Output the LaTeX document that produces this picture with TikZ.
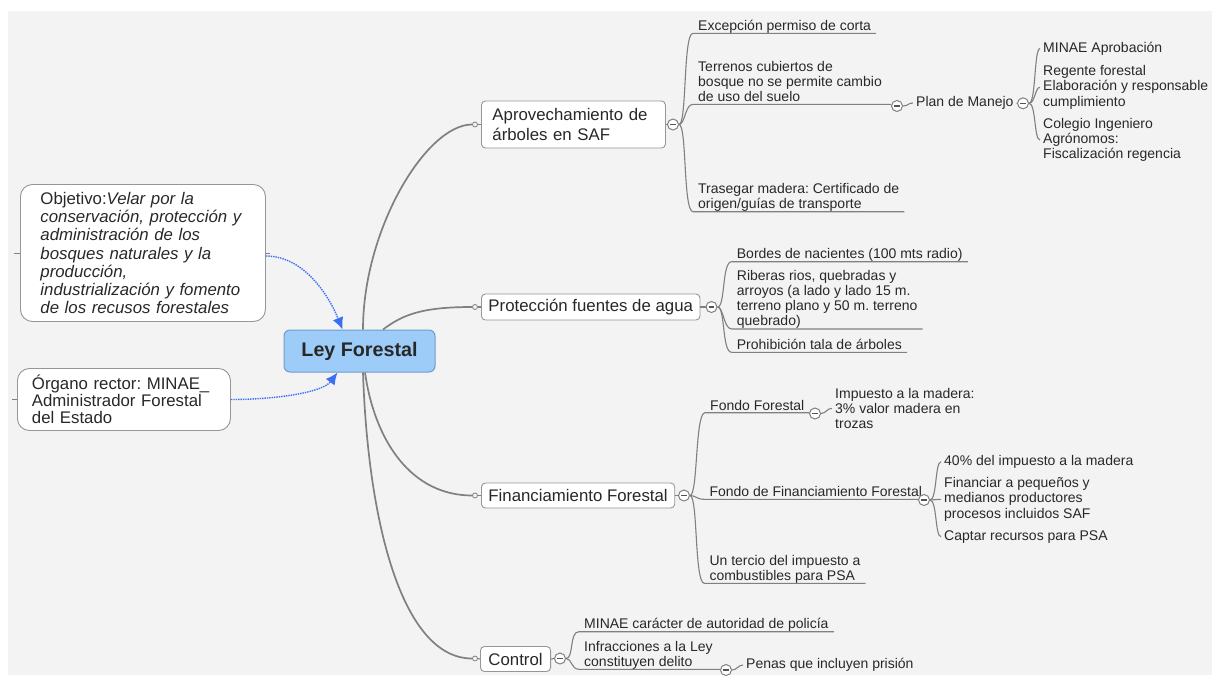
\documentclass[tikz,border=0pt]{standalone}
\usepackage{fontspec}
\setmainfont{Liberation Sans}
\usetikzlibrary{arrows.meta}
\frenchspacing

\definecolor{paper}{RGB}{243,243,243}
\definecolor{ink}{RGB}{40,40,40}
\definecolor{wire}{RGB}{128,128,128}
\definecolor{frame}{RGB}{150,150,150}
\definecolor{rootfill}{RGB}{158,204,248}
\definecolor{rootline}{RGB}{110,155,205}
\definecolor{linkblue}{RGB}{60,110,245}

\tikzset{
	topic/.style={draw=frame, fill=white, rounded corners=4pt, line width=0.9pt, text=ink, align=left, anchor=west, inner xsep=8pt, font=\fontsize{16.8}{19.5}\selectfont},
	sidebox/.style={draw=frame, fill=white, rounded corners=12pt, line width=0.9pt, text=ink, align=left, anchor=west, font=\fontsize{16.8}{18.3}\selectfont},
	leaf/.style={anchor=south west, inner xsep=5pt, inner ysep=0pt, align=left, text=ink, font=\fontsize{14}{15}\selectfont, execute at end node={\rule[-2.5pt]{0pt}{2.5pt}}},
	note/.style={anchor=west, inner xsep=3pt, inner ysep=1pt, align=left, text=ink, font=\fontsize{14}{15.3}\selectfont},
	tog/.style={circle, draw=wire, fill=white, line width=1pt, minimum size=11pt, inner sep=0pt, path picture={\draw[ink!80, line width=1.5pt] ([xshift=-2.8pt]path picture bounding box.center) -- ([xshift=2.8pt]path picture bounding box.center);}},
	knob/.style={circle, draw=wire, fill=paper, line width=0.8pt, minimum size=5pt, inner sep=0pt},
	trunk/.style={draw=wire, line width=1.7pt},
	twig/.style={draw=wire, line width=1.1pt},
	rel/.style={draw=linkblue, line width=1.4pt, densely dotted, -{Latex[length=12pt,width=11pt]}}
}

\begin{document}
\begin{tikzpicture}[x=1pt,y=-1pt]
		\useasboundingbox (0,0) rectangle (1212,675);
		\fill[white] (0,0) rectangle (1212,675);
		\fill[paper] (8,11) rectangle (1212,675);

		% centre and side notes
		\node[draw=rootline, fill=rootfill, rounded corners=6pt, line width=1pt, minimum width=151pt, minimum height=42pt, text=ink, font=\fontsize{19.7}{22}\selectfont\bfseries] (root) at (359.5,351) {Ley Forestal};
		\node[sidebox, text width=205pt, inner xsep=20pt, minimum height=137pt] (obj) at (20,253) {Objetivo:\textit{Velar por la}\\\textit{conservación, protección y}\\\textit{administración de los}\\\textit{bosques naturales y la}\\\textit{producción,}\\\textit{industrialización y fomento}\\\textit{de los recusos forestales}};
		\node[sidebox, text width=184pt, inner xsep=14.5pt, minimum height=62pt, font=\fontsize{16.8}{17}\selectfont] (org) at (17,399.5) {Órgano rector: MINAE\_\\Administrador Forestal\\del Estado};

		% main topics
		\node[knob] (aprok) at (475,124.5) {};
		\node[topic, text width=162pt, inner xsep=11pt, minimum height=47pt] (apro) at (481,124.5) {Aprovechamiento de\\árboles en SAF};
		\node[tog] (aprot) at (673,124.5) {};

		\node[knob] (protk) at (475,307) {};
		\node[topic, inner xsep=7pt, minimum height=26pt] (prot) at (481,307) {Protección fuentes de agua};
		\node[tog] (prott) at (711.5,307) {};

		\node[knob] (fink) at (475,495.5) {};
		\node[topic, inner xsep=7pt, minimum height=25pt] (fin) at (481,495.5) {Financiamiento Forestal};
		\node[tog] (fint) at (684,495.5) {};

		\node[knob] (ctrlk) at (475,658.5) {};
		\node[topic, minimum height=25pt] (ctrl) at (480,659) {Control};
		\node[tog] (ctrlt) at (560,658.5) {};

		% Aprovechamiento
		\node[leaf] (exc) at (693,33.3) {Excepción permiso de corta};
		\node[leaf] (terr) at (693,104.3) {Terrenos cubiertos de\\bosque no se permite cambio\\de uso del suelo};
		\node[tog] (terrt) at (897,106) {};
		\node[note] (plan) at (913,103) {Plan de Manejo};
		\node[tog] (plant) at (1023,103.3) {};
		\node[note] (minae) at (1040,48.5) {MINAE Aprobación};
		\node[note] (reg) at (1040,87.3) {Regente forestal\\Elaboración y responsable\\cumplimiento};
		\node[note] (col) at (1040,140) {Colegio Ingeniero\\Agrónomos:\\Fiscalización regencia};
		\node[leaf] (tras) at (693,211.7) {Trasegar madera: Certificado de\\origen/guías de transporte};

		% Proteccion
		\node[leaf] (bord) at (731.7,261.7) {Bordes de nacientes (100 mts radio)};
		\node[leaf] (rib) at (731.7,329) {Riberas rios, quebradas y\\arroyos (a lado y lado 15 m.\\terreno plano y 50 m. terreno\\quebrado)};
		\node[leaf] (proh) at (731.7,352.3) {Prohibición tala de árboles};

		% Financiamiento
		\node[leaf] (fondo) at (705,412.7) {Fondo Forestal};
		\node[tog] (fondot) at (815,413.5) {};
		\node[note] (imp) at (832,408.3) {Impuesto a la madera:\\3\% valor madera en\\trozas};
		\node[leaf] (ffin) at (704.3,499.3) {Fondo de Financiamiento Forestal};
		\node[tog] (ffint) at (924,500) {};
		\node[note] (cuarenta) at (941,461.7) {40\% del impuesto a la madera};
		\node[note] (finan) at (941,499.3) {Financiar a pequeños y\\medianos productores\\procesos incluidos SAF};
		\node[note] (captar) at (941,536.7) {Captar recursos para PSA};
		\node[leaf] (tercio) at (704.3,583.3) {Un tercio del impuesto a\\combustibles para PSA};

		% Control
		\node[leaf] (poli) at (579,631.7) {MINAE carácter de autoridad de policía};
		\node[leaf] (infr) at (579,669.3) {Infracciones a la Ley\\constituyen delito};
		\node[tog] (infrt) at (726,670) {};
		\node[note] (penas) at (743,665) {Penas que incluyen prisión};

		% trunks
		\draw[trunk] ([xshift=3.5pt]root.north) .. controls +(0,-100) and +(-46,0) .. (aprok.west);
		\draw[trunk] ([xshift=23.5pt]root.north) .. controls +(20,-15) and +(-50,0) .. (protk.west);
		\draw[trunk] ([xshift=5.5pt]root.south) .. controls +(10,70) and +(-60,0) .. (fink.west);
		\draw[trunk] ([xshift=3.5pt]root.south) .. controls +(5,150) and +(-70,0) .. (ctrlk.west);
		\draw[twig] (aprok.east) -- (apro.west);
		\draw[twig] (protk.east) -- (prot.west);
		\draw[twig] (fink.east) -- (fin.west);
		\draw[twig] (ctrlk.east) -- (ctrl.west);
		\draw[twig] (apro.east) -- (aprot.west);
		\draw[twig] (prot.east) -- (prott.west);
		\draw[twig] (fin.east) -- (fint.west);
		\draw[twig] (ctrl.east) -- (ctrlt.west);

		% side links
		\draw[twig, line width=0.6pt] (obj.west) -- +(-6,0);
		\draw[twig, line width=0.6pt] (obj.east) -- +(4,0);
		\draw[twig, line width=0.6pt] (org.west) -- +(-5,0);
		\draw[rel] ([yshift=-3pt]obj.east) .. controls +(40,0) and +(-12,-30) .. ([xshift=-17pt]root.north);
		\draw[rel] (org.east) .. controls +(45,0) and +(-15,20) .. ([xshift=-22pt]root.south);

		% Aprovechamiento branches
		\draw[twig] (aprot.east) .. controls +(8,0) and +(-10,0) .. (exc.south west) -- (exc.south east);
		\draw[twig] (aprot.east) .. controls +(6,0) and +(-8,0) .. (terr.south west) -- (terr.south west -| terrt.west);
		\draw[twig] (aprot.east) .. controls +(8,0) and +(-10,0) .. (tras.south west) -- (tras.south east);
		\draw[twig] (terrt.east) .. controls +(5,0) and +(-5,0) .. (plan.west);
		\draw[twig] (plan.east) -- (plant.west);
		\draw[twig] (plant.east) .. controls +(7,0) and +(-6,0) .. (minae.west);
		\draw[twig] (plant.east) .. controls +(6,0) and +(-5,0) .. (reg.west);
		\draw[twig] (plant.east) .. controls +(7,0) and +(-6,0) .. (col.west);

		% Proteccion branches
		\draw[twig] (prott.east) .. controls +(8,0) and +(-10,0) .. (bord.south west) -- (bord.south east);
		\draw[twig] (prott.east) .. controls +(6,0) and +(-8,0) .. (rib.south west) -- (rib.south east);
		\draw[twig] (prott.east) .. controls +(8,0) and +(-10,0) .. (proh.south west) -- (proh.south east);

		% Financiamiento branches
		\draw[twig] (fint.east) .. controls +(8,0) and +(-10,0) .. (fondo.south west) -- (fondo.south west -| fondot.west);
		\draw[twig] (fondot.east) .. controls +(5,0) and +(-5,0) .. (imp.west);
		\draw[twig] (fint.east) .. controls +(6,0) and +(-8,0) .. (ffin.south west) -- (ffin.south west -| ffint.west);
		\draw[twig] (ffint.east) .. controls +(7,0) and +(-6,0) .. (cuarenta.west);
		\draw[twig] (ffint.east) .. controls +(5,0) and +(-5,0) .. (finan.west);
		\draw[twig] (ffint.east) .. controls +(7,0) and +(-6,0) .. (captar.west);
		\draw[twig] (fint.east) .. controls +(8,0) and +(-10,0) .. (tercio.south west) -- (tercio.south east);

		% Control branches
		\draw[twig] (ctrlt.east) .. controls +(8,0) and +(-10,0) .. (poli.south west) -- (poli.south east);
		\draw[twig] (ctrlt.east) .. controls +(6,0) and +(-8,0) .. (infr.south west) -- (infr.south west -| infrt.west);
		\draw[twig] (infrt.east) .. controls +(5,0) and +(-5,0) .. (penas.west);
\end{tikzpicture}
\end{document}
